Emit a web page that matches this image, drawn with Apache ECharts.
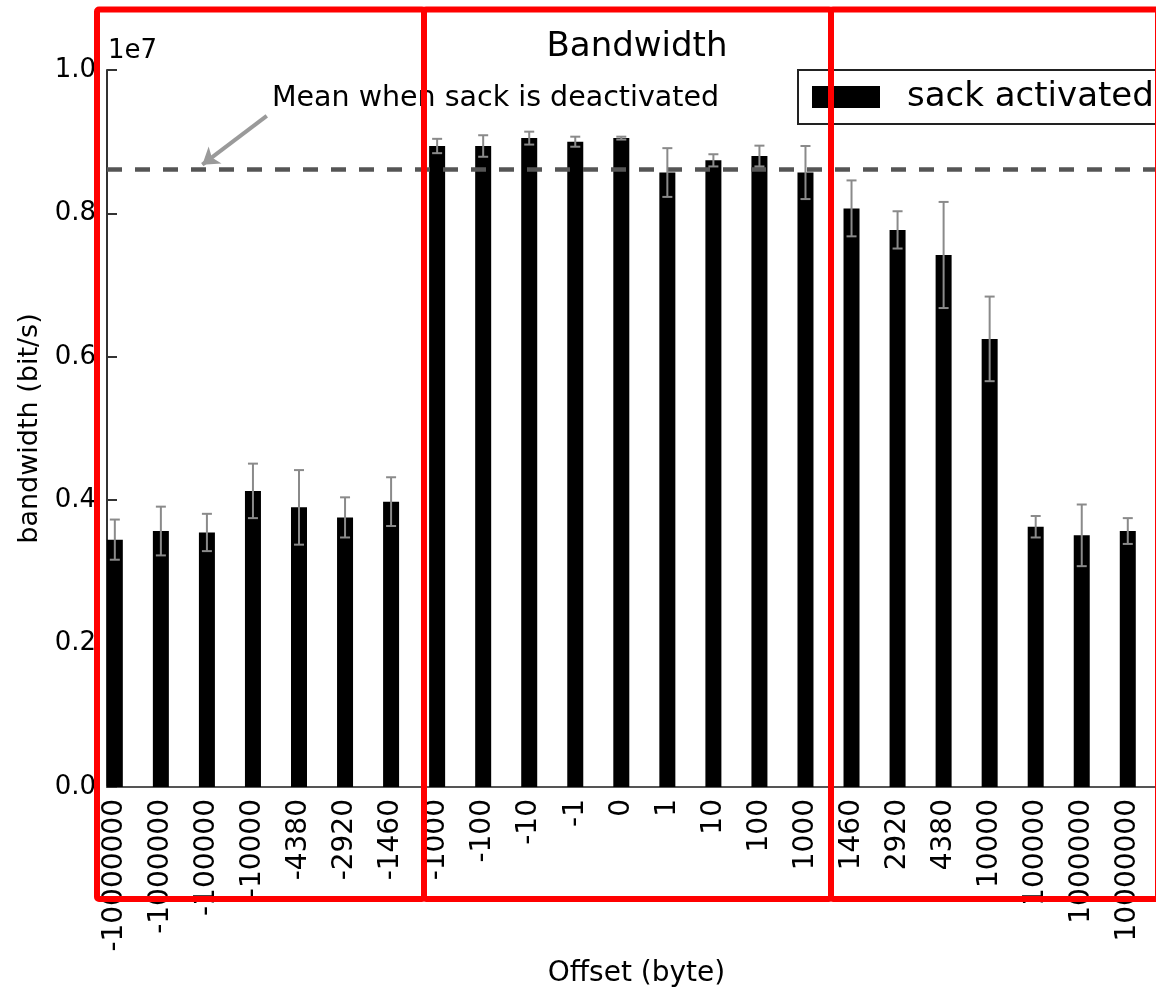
<!DOCTYPE html>
<html>
<head>
<meta charset="utf-8">
<script src="https://cdn.jsdelivr.net/npm/echarts@6/dist/echarts.min.js"></script>
<style>
  html, body { margin: 0; padding: 0; background: #fff; }
  #chart { width: 1156px; height: 987px; }
</style>
</head>
<body>
<div id="chart"></div>
<script>
const OFFSETS = ['-10000000', '-1000000', '-100000', '-10000', '-4380', '-2920', '-1460',
  '-1000', '-100', '-10', '-1', '0', '1', '10', '100', '1000',
  '1460', '2920', '4380', '10000', '100000', '1000000', '10000000']
const BANDWIDTH = [3.45e6, 3.57e6, 3.55e6, 4.13e6, 3.90e6, 3.76e6, 3.98e6,
  8.94e6, 8.94e6, 9.05e6, 9.00e6, 9.05e6, 8.57e6, 8.74e6, 8.80e6, 8.57e6,
  8.07e6, 7.77e6, 7.42e6, 6.25e6, 3.63e6, 3.51e6, 3.57e6]
const ERRORS = [2.8e5, 3.4e5, 2.6e5, 3.8e5, 5.2e5, 2.8e5, 3.4e5,
  1.0e5, 1.5e5, 0.9e5, 0.7e5, 0.2e5, 3.4e5, 0.85e5, 1.45e5, 3.7e5,
  3.9e5, 2.6e5, 7.4e5, 5.9e5, 1.5e5, 4.3e5, 1.8e5]
const MEAN_DEACTIVATED = 8.615e6
const Y_TICKS = [0, 2e6, 4e6, 6e6, 8e6, 1e7]

const FONT = "'DejaVu Sans', sans-serif"
const RED = '#ff0000'

// annotation arrow, in data units
const ARROW_FROM = [3.3, 9.36e6]
const ARROW_TO = [1.9, 8.68e6]

const chart = echarts.init(document.getElementById('chart'))

const indices = OFFSETS.map((_, i) => i)

function renderError(params, api) {
  const x = api.value(0)
  const lo = api.coord([x, api.value(1)])
  const hi = api.coord([x, api.value(2)])
  const cap = 5
  const style = { stroke: '#8a8a8a', lineWidth: 2 }
  return {
    type: 'group',
    children: [
      { type: 'line', shape: { x1: lo[0], y1: lo[1], x2: hi[0], y2: hi[1] }, style },
      { type: 'line', shape: { x1: lo[0] - cap, y1: lo[1], x2: lo[0] + cap, y2: lo[1] }, style },
      { type: 'line', shape: { x1: hi[0] - cap, y1: hi[1], x2: hi[0] + cap, y2: hi[1] }, style },
    ],
  }
}

chart.setOption({
  animation: false,
  title: {
    text: 'Bandwidth',
    left: 637,
    textAlign: 'center',
    top: 30,
    padding: 0,
    textStyle: { fontFamily: FONT, fontSize: 34, fontWeight: 'normal', color: '#000' },
  },
  legend: {
    data: ['sack activated'],
    left: 798,
    top: 70,
    padding: [10, 14],
    itemWidth: 68,
    itemHeight: 22,
    icon: 'rect',
    borderColor: '#222',
    borderWidth: 2,
    backgroundColor: '#fff',
    textStyle: { fontFamily: FONT, fontSize: 34, color: '#000', padding: [0, 0, 0, 22], lineHeight: 34 },
  },
  grid: { left: 107, right: -10, top: 70, bottom: 200, outerBoundsMode: 'none', containLabel: false },
  xAxis: {
    type: 'value',
    min: -0.17,
    max: 22.83,
    name: 'Offset (byte)',
    nameLocation: 'middle',
    nameGap: 170,
    nameTextStyle: { fontFamily: FONT, fontSize: 28, color: '#000' },
    axisLine: { lineStyle: { color: '#555', width: 2 } },
    axisTick: { show: false },
    splitLine: { show: false },
    axisLabel: {
      customValues: indices,
      rotate: 90,
      margin: 12,
      fontFamily: FONT,
      fontSize: 28,
      color: '#000',
      formatter: v => OFFSETS[Math.round(v)] ?? '',
    },
  },
  yAxis: {
    type: 'value',
    min: 0,
    max: 1e7,
    interval: 2e6,
    name: 'bandwidth (bit/s)',
    nameLocation: 'middle',
    nameGap: 63,
    nameTextStyle: { fontFamily: FONT, fontSize: 27, color: '#000' },
    axisLine: { show: true, onZero: false, lineStyle: { color: '#333', width: 2 } },
    axisTick: { show: true, inside: true, length: 10, lineStyle: { color: '#333', width: 2 } },
    splitLine: { show: false },
    axisLabel: {
      margin: 11,
      fontFamily: FONT,
      fontSize: 26,
      color: '#000',
      formatter: v => (Y_TICKS.includes(v) ? (v / 1e7).toFixed(1) : ''),
    },
  },
  series: [
    {
      name: 'sack activated',
      type: 'bar',
      barWidth: 16,
      itemStyle: { color: '#000' },
      data: BANDWIDTH.map((v, i) => [i, v]),
      markLine: {
        silent: true,
        animation: false,
        symbol: ['none', 'none'],
        label: { show: false },
        data: [
          { yAxis: MEAN_DEACTIVATED, lineStyle: { color: '#555', width: 4.5, type: [15, 13] } },
          [
            { coord: ARROW_FROM, symbol: 'none', lineStyle: { color: '#9a9a9a', width: 4, type: 'solid' } },
            { coord: ARROW_TO, symbol: 'arrow', symbolSize: 16 },
          ],
        ],
      },
    },
    {
      name: 'error',
      type: 'custom',
      renderItem: renderError,
      z: 5,
      data: BANDWIDTH.map((v, i) => [i, v - ERRORS[i], v + ERRORS[i]]),
    },
  ],
  graphic: [
    {
      type: 'text', left: 108, top: 38,
      style: { text: '1e7', font: `26px ${FONT}`, fill: '#000' },
    },
    {
      type: 'text', left: 272, top: 84,
      style: { text: 'Mean when sack is deactivated', font: `28.5px ${FONT}`, fill: '#000' },
    },
    // red highlight boxes over the plot
    { type: 'rect', z: 100, shape: { x: 97, y: 9.5, width: 327, height: 889.5, r: 2 }, style: { fill: 'none', stroke: RED, lineWidth: 6 } },
    { type: 'rect', z: 100, shape: { x: 424, y: 9.5, width: 407, height: 889.5, r: 2 }, style: { fill: 'none', stroke: RED, lineWidth: 6 } },
    { type: 'rect', z: 100, shape: { x: 831, y: 9.5, width: 327, height: 889.5, r: 2 }, style: { fill: 'none', stroke: RED, lineWidth: 6 } },
  ],
})
</script>
</body>
</html>
